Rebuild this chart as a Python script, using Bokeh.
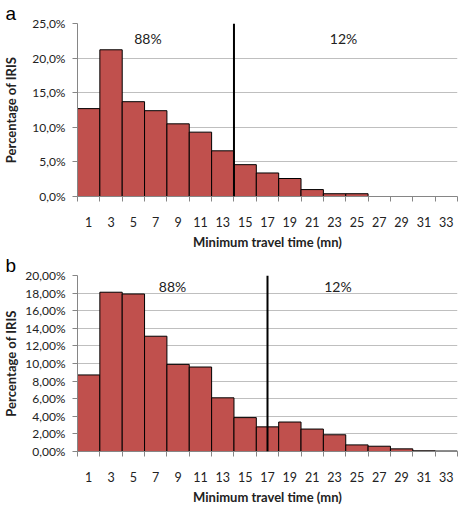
from bokeh.plotting import figure
from bokeh.layouts import column
from bokeh.models import (Range1d, FixedTicker, CustomJSTickFormatter, Span, Label,
                          ColumnDataSource, Title)
from bokeh.embed import file_html
from bokeh.resources import INLINE

# ---- data ----
times = [1, 3, 5, 7, 9, 11, 13, 15, 17, 19, 21, 23, 25, 27, 29, 31, 33]
pct_a = [12.7, 21.2, 13.7, 12.4, 10.5, 9.3, 6.6, 4.6, 3.4, 2.6, 1.0, 0.4, 0.4, 0, 0, 0, 0]
pct_b = [8.7, 18.1, 17.9, 13.1, 9.9, 9.6, 6.1, 3.85, 2.8, 3.35, 2.55, 1.9, 0.75, 0.6, 0.3, 0.08, 0.05]
cut_a = 14
cut_b = 17
share_labels = ["88%", "12%"]
y_ticks_a = [0, 5, 10, 15, 20, 25]
y_ticks_b = [0, 2, 4, 6, 8, 10, 12, 14, 16, 18, 20]
x_title = "Minimum travel time (mn)"
y_title = "Percentage of IRIS"
bin_width = 2

BAR = "#C0504D"
GRID = "#BFBFBF"
AXIS = "#868686"
TXT = "#222222"
FONT = "Lato"


def make(pct, cut, yticks, decimals, letter, top, frame_h, lbl_pos):
    ymax = yticks[-1]
    edges = [t - bin_width / 2 for t in times] + [times[-1] + bin_width / 2]
    ttl = Title(text=letter, align="left", offset=-72, standoff=0,
                text_font="Liberation Sans", text_font_size="19px",
                text_font_style="normal", text_color="black", text_line_height=0.6)
    p = figure(frame_width=380, frame_height=frame_h, output_backend="svg",
               toolbar_location=None,
               x_range=Range1d(edges[0], edges[-1]), y_range=Range1d(0, ymax),
               min_border_left=72, min_border_right=4, min_border_top=top,
               min_border_bottom=0, title=ttl)
    p.outline_line_color = None
    p.background_fill_color = "white"
    p.xgrid.grid_line_color = None
    p.ygrid.grid_line_color = GRID
    p.ygrid.ticker = FixedTicker(ticks=yticks)

    xs = [t for t, v in zip(times, pct) if v > 0]
    vs = [v for v in pct if v > 0]
    src = ColumnDataSource(dict(x=xs, top=vs))
    p.vbar(x="x", top="top", bottom=0, width=bin_width, source=src,
           fill_color=BAR, line_color="black", line_width=1)

    p.add_layout(Span(location=cut, dimension="height", line_color="black", line_width=2))

    # x axis
    xa = p.xaxis[0]
    xa.ticker = FixedTicker(ticks=times, minor_ticks=edges)
    xa.major_tick_line_color = None
    xa.major_tick_out = 0
    xa.major_tick_in = 0
    xa.minor_tick_line_color = AXIS
    xa.minor_tick_out = 5
    xa.minor_tick_in = 0
    xa.axis_line_color = AXIS
    xa.major_label_standoff = 15
    xa.major_label_text_font = FONT
    xa.major_label_text_font_size = "12.5px"
    xa.major_label_text_color = TXT
    p.add_layout(Title(text=x_title, align="center", standoff=5,
                       text_font=FONT, text_font_size="13px", text_font_style="bold",
                       text_color=TXT, text_line_height=0.9), "below")

    # y axis
    ya = p.yaxis[0]
    ya.ticker = FixedTicker(ticks=yticks)
    ya.formatter = CustomJSTickFormatter(
        code="return tick.toFixed(%d).replace('.', ',') + '%%';" % decimals)
    ya.minor_tick_line_color = None
    ya.major_tick_line_color = AXIS
    ya.major_tick_out = 5
    ya.major_tick_in = 0
    ya.axis_line_color = AXIS
    ya.major_label_standoff = 7
    ya.major_label_text_font = FONT
    ya.major_label_text_font_size = "12px"
    ya.major_label_text_color = TXT
    ya.axis_label = y_title
    ya.axis_label_text_font = FONT
    ya.axis_label_text_font_style = "bold"
    ya.axis_label_text_font_size = "13px"
    ya.axis_label_text_color = TXT
    ya.axis_label_standoff = 3 if decimals == 2 else 10

    for txt, (lx, ly) in zip(share_labels, lbl_pos):
        p.add_layout(Label(x=lx, y=ly, text=txt, text_align="center", text_baseline="middle",
                           text_font=FONT, text_font_size="14px", text_color=TXT))
    return p


p1 = make(pct_a, cut_a, y_ticks_a, 1, "a", 6, 173, [(6.3, 22.9), (23.8, 22.9)])
p2 = make(pct_b, cut_b, y_ticks_b, 2, "b", 13, 176, [(8.5, 18.7), (23.3, 18.7)])

layout = column(p1, p2, spacing=0)
open("out.html", "w").write(file_html(layout, INLINE))
